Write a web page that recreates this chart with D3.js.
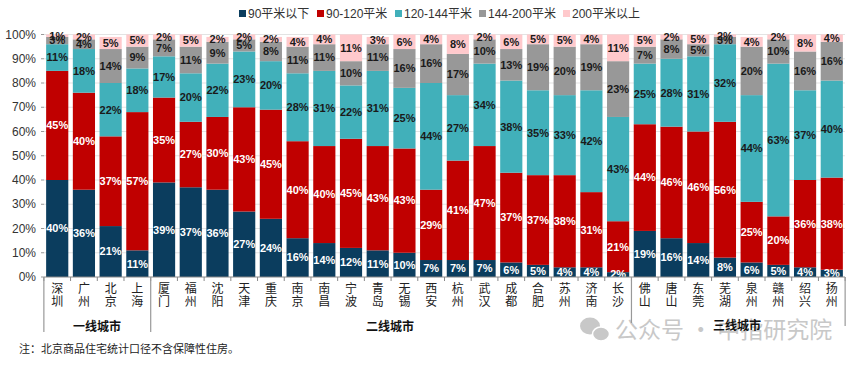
<!DOCTYPE html>
<html><head><meta charset="utf-8">
<script src="https://cdn.jsdelivr.net/npm/d3@7"></script>
<style>
body{margin:0;background:#fff;}
svg{display:block;font-family:"Liberation Sans","Noto Sans CJK SC",sans-serif;}
</style></head>
<body><svg id="c" width="854" height="365"></svg>
<script>
const cities = ["深圳","广州","北京","上海","厦门","福州","沈阳","天津","重庆","南京","南昌","宁波","青岛","无锡","西安","杭州","武汉","成都","合肥","苏州","济南","长沙","佛山","唐山","东莞","芜湖","泉州","赣州","绍兴","扬州"];
const seriesNames = ["90平米以下","90-120平米","120-144平米","144-200平米","200平米以上"];
const s90 =     [40,36,21,11,39,37,36,27,24,16,14,12,11,10,7,7,7,6,5,4,4,2,19,16,14,8,6,5,4,3];
const s90_120 = [45,40,37,57,35,27,30,43,45,40,40,45,43,43,29,41,47,37,37,38,31,21,44,46,46,56,25,20,36,38];
const s120_144 =[11,18,22,18,17,20,22,23,20,28,31,22,31,25,44,27,34,38,35,33,42,43,25,28,31,32,44,63,37,40];
const s144_200 =[3,4,14,9,7,11,9,5,8,11,11,10,11,16,16,17,10,13,19,20,19,23,7,8,5,3,20,10,16,16];
const s200 =    [1,2,5,5,2,5,2,2,2,4,4,11,3,6,4,8,2,6,5,5,4,11,5,2,5,2,4,2,8,4];
const groups = [{name:"一线城市",from:0,to:3},{name:"二线城市",from:4,to:21},{name:"三线城市",from:22,to:29}];
const yTicks = [0,10,20,30,40,50,60,70,80,90,100];
const note = "注：北京商品住宅统计口径不含保障性住房。";

const colors = ["#0B3D5E","#C00000","#41B0BA","#989898","#FFC9CC"];
const labelColors = ["#fff","#fff","#1a1a1a","#1a1a1a","#1a1a1a"];
const allSeries = [s90,s90_120,s120_144,s144_200,s200];

const svg = d3.select("#c");
const x = d3.scaleBand().domain(cities).range([44,845]).paddingInner(0.17).paddingOuter(0.08);
const y = d3.scaleLinear().domain([0,100]).range([277,34.5]);

// gridlines
svg.append("g").selectAll("line").data(yTicks.filter(d=>d>0)).join("line")
  .attr("x1",44).attr("x2",845).attr("y1",d=>y(d)).attr("y2",d=>y(d))
  .attr("stroke","#e3e3e3").attr("stroke-width",1);

// y axis labels
svg.append("g").selectAll("text").data(yTicks).join("text")
  .attr("x",36).attr("y",d=>y(d)).attr("dy","0.35em").attr("text-anchor","end")
  .attr("font-size",12).attr("fill","#333").text(d=>d+"%");
svg.append("g").selectAll("line").data(yTicks).join("line")
  .attr("x1",41).attr("x2",44).attr("y1",d=>y(d)).attr("y2",d=>y(d)).attr("stroke","#999");

// watermark (behind)
const wm = svg.append("g").attr("fill","#c8c8c8");
wm.append("ellipse").attr("cx",590).attr("cy",326).attr("rx",10).attr("ry",8.5);
wm.append("ellipse").attr("cx",601).attr("cy",334).attr("rx",8.5).attr("ry",7).attr("stroke","#fff").attr("stroke-width",1.5);
wm.append("text").attr("x",615).attr("y",338).attr("font-size",23)
  .attr("font-family","Noto Sans CJK SC").text("公众号 · 中指研究院");

// stacked data
const rows = cities.map((c,i)=>{const o={city:c}; seriesNames.forEach((s,k)=>o[s]=allSeries[k][i]); return o;});
const stack = d3.stack().keys(seriesNames)(rows);

const gBars = svg.append("g");
stack.forEach((layer,k)=>{
  gBars.append("g").selectAll("rect").data(layer).join("rect")
    .attr("x",d=>x(d.data.city)).attr("width",x.bandwidth())
    .attr("y",d=>y(Math.min(d[1],100))).attr("height",d=>y(d[0])-y(Math.min(d[1],100)))
    .attr("fill",colors[k]);
});
stack.forEach((layer,k)=>{
  svg.append("g").selectAll("text").data(layer).join("text")
    .attr("x",d=>x(d.data.city)+x.bandwidth()/2)
    .attr("y",d=>y((d[0]+Math.min(d[1],100))/2))
    .attr("dy","0.35em").attr("text-anchor","middle")
    .attr("font-size",11).attr("font-weight","bold").attr("fill",labelColors[k])
    .text(d=>(d[1]-d[0])+"%");
});

// x axis
svg.append("line").attr("x1",44).attr("x2",845).attr("y1",277).attr("y2",277).attr("stroke","#888");
const bounds = cities.map(c=>x(c)-x.step()*x.paddingInner()/2).concat([x(cities[cities.length-1])+x.bandwidth()+x.step()*x.paddingInner()/2]);
svg.append("g").selectAll("line").data(bounds).join("line")
  .attr("x1",d=>d).attr("x2",d=>d).attr("y1",277).attr("y2",281).attr("stroke","#888");

// category labels (vertical)
const cl = svg.append("g").selectAll("text").data(cities).join("text")
  .attr("text-anchor","middle").attr("font-size",12).attr("fill","#222")
  .attr("font-family","Noto Sans CJK SC");
cl.each(function(c){
  const t=d3.select(this); const cx=x(c)+x.bandwidth()/2;
  c.split("").forEach((ch,j)=>t.append("tspan").attr("x",cx).attr("y",293+j*13).text(ch));
});

// group separators
const sepX = [0,4,22].map(i=>bounds[i]).concat([bounds[30]]);
const sepEnd = [332,332,323,326];
svg.append("g").selectAll("line").data(sepX).join("line")
  .attr("x1",d=>d).attr("x2",d=>d).attr("y1",277).attr("y2",(d,i)=>sepEnd[i]).attr("stroke","#999").attr("stroke-width",1.2);
const gx = [97,390,737];
svg.append("g").selectAll("text").data(groups).join("text")
  .attr("x",(d,i)=>gx[i]).attr("y",(d,i)=>i==2?330:331).attr("text-anchor","middle")
  .attr("font-size",12).attr("font-weight","bold").attr("fill","#111")
  .attr("font-family","Noto Sans CJK SC").text(d=>d.name);

// note
svg.append("text").attr("x",19).attr("y",353).attr("font-size",11).attr("fill","#222")
  .attr("font-family","Noto Sans CJK SC").text(note);

// legend
const legX = [239,317,395,479,563];
const lg = svg.append("g").selectAll("g").data(seriesNames).join("g")
  .attr("transform",(d,i)=>`translate(${legX[i]},14)`);
lg.append("rect").attr("x",0).attr("y",-4).attr("width",7).attr("height",7).attr("fill",(d,i)=>colors[i]);
lg.append("text").attr("x",9).attr("y",0).attr("dy","0.35em").attr("font-size",12).attr("fill","#333")
  .attr("font-family","Liberation Sans, Noto Sans CJK SC").text(d=>d);
</script></body></html>
